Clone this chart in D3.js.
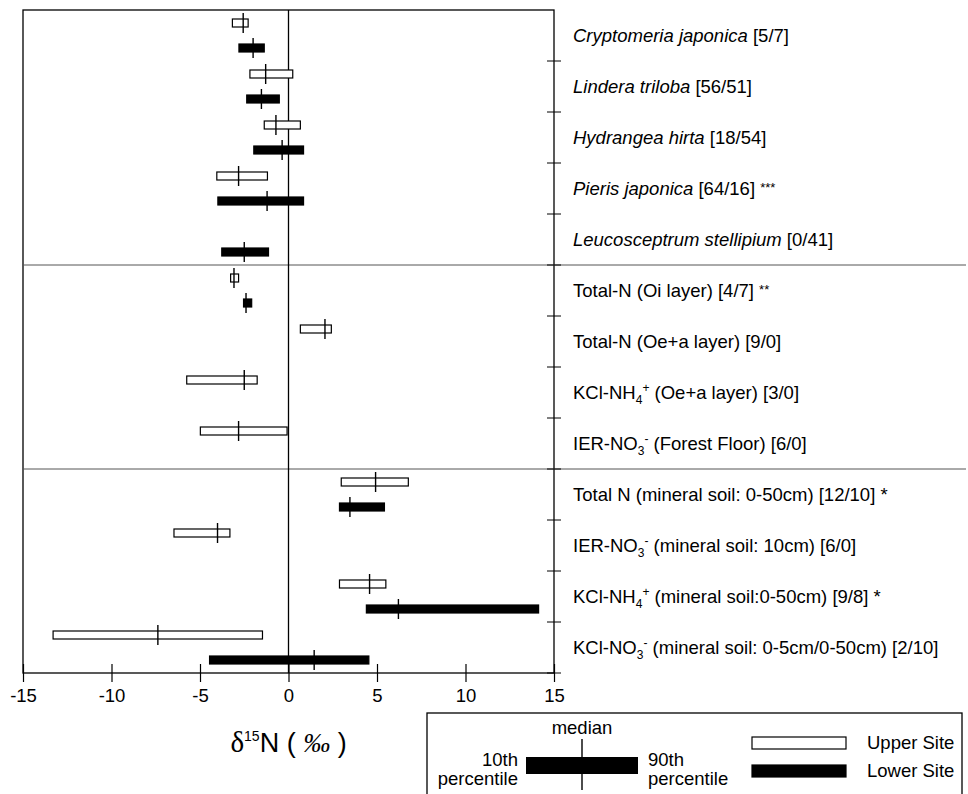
<!DOCTYPE html>
<meta charset="utf-8">
<script src="https://d3js.org/d3.v7.min.js"></script>
<style>
  body { margin: 0; background: #fff; }
  text { font-family: "Liberation Sans", Arial, sans-serif; fill: #000; }
</style>
<div id="chart"></div>
<script>
// rows, top to bottom (_x = subscript, ^x = superscript)
var categories = ["Cryptomeria japonica", "Lindera triloba", "Hydrangea hirta", "Pieris japonica",
  "Leucosceptrum stellipium", "Total-N (Oi layer)", "Total-N (Oe+a layer)", "KCl-NH_4^+ (Oe+a layer)",
  "IER-NO_3^- (Forest Floor)", "Total N (mineral soil: 0-50cm)", "IER-NO_3^- (mineral soil: 10cm)",
  "KCl-NH_4^+ (mineral soil:0-50cm)", "KCl-NO_3^- (mineral soil: 0-5cm/0-50cm)"];
var sampleSizes = ["[5/7]", "[56/51]", "[18/54]", "[64/16]", "[0/41]", "[4/7]", "[9/0]", "[3/0]",
  "[6/0]", "[12/10]", "[6/0]", "[9/8]", "[2/10]"];
var significance = ["", "", "", "***", "", "**", "", "", "", "*", "", "*", ""];
var speciesRows = 5;          // first rows are plant species (italic)
var groupBreaks = [5, 9];     // horizontal dividers before these rows

// delta15N percentiles (permil), null = no samples
var upperP10 = [-3.17, -2.18, -1.37, -4.05, null, -3.27, 0.67, -5.75, -4.98, 2.98, -6.47, 2.88, -13.3];
var upperMed = [-2.56, -1.29, -0.71, -2.82, null, -3.08, 2.06, -2.5, -2.82, 4.92, -4.01, 4.58, -7.38];
var upperP90 = [-2.28, 0.24, 0.67, -1.19, null, -2.82, 2.42, -1.77, -0.08, 6.77, -3.31, 5.5, -1.47];
var lowerP10 = [-2.8, -2.36, -1.96, -3.99, -3.77, -2.54, null, null, null, 2.88, null, 4.4, -4.46];
var lowerMed = [-2.0, -1.53, -0.36, -1.21, -2.5, -2.4, null, null, null, 3.47, null, 6.21, 1.45];
var lowerP90 = [-1.37, -0.52, 0.85, 0.85, -1.13, -2.08, null, null, null, 5.42, null, 14.13, 4.54];

var sites = ["Upper Site", "Lower Site"];
var siteFill = ["#fff", "#000"];
var xTicks = [-15, -10, -5, 0, 5, 10, 15];

var W = 968, H = 794;
var svg = d3.select("#chart").append("svg").attr("width", W).attr("height", H);

var x = d3.scaleLinear().domain([-15, 15]).range([23, 554]);
var y = d3.scaleBand().domain(d3.range(categories.length)).range([10, 673]);
var ySite = d3.scalePoint().domain(sites).range([0, y.bandwidth()]).padding(0.52);

// build the records
var data = [];
categories.forEach(function(c, i) {
  data.push({row: i, site: sites[0], p10: upperP10[i], med: upperMed[i], p90: upperP90[i]});
  data.push({row: i, site: sites[1], p10: lowerP10[i], med: lowerMed[i], p90: lowerP90[i]});
});
data = data.filter(function(d) { return d.med !== null; });

// frame
svg.append("rect")
  .attr("x", x.range()[0]).attr("y", y.range()[0])
  .attr("width", x.range()[1] - x.range()[0]).attr("height", y.range()[1] - y.range()[0])
  .attr("fill", "none").attr("stroke", "#000").attr("stroke-width", 1.3);

// group dividers run across the label column
groupBreaks.forEach(function(b) {
  svg.append("line")
    .attr("x1", x.range()[0]).attr("x2", 966)
    .attr("y1", y(b)).attr("y2", y(b))
    .attr("stroke", "#555").attr("stroke-width", 1);
});

// right-hand row ticks
svg.append("g").selectAll("line")
  .data(d3.range(1, categories.length + 1))
  .enter().append("line")
    .attr("x1", x.range()[1] - 7).attr("x2", x.range()[1] + 7)
    .attr("y1", function(i) { return i < categories.length ? y(i) : y.range()[1]; })
    .attr("y2", function(i) { return i < categories.length ? y(i) : y.range()[1]; })
    .attr("stroke", "#000").attr("stroke-width", 1);

// zero line
svg.append("line")
  .attr("x1", x(0)).attr("x2", x(0))
  .attr("y1", y.range()[0]).attr("y2", y.range()[1])
  .attr("stroke", "#000").attr("stroke-width", 1.3);

// x axis, ticks crossing the frame
var xAxis = svg.append("g")
  .attr("transform", "translate(0," + (y.range()[1] - 9) + ")")
  .call(d3.axisBottom(x).tickValues(xTicks).tickSize(18).tickPadding(7)
    .tickFormat(function(d) { return String(d); }));
xAxis.select(".domain").remove();
xAxis.selectAll("line").attr("stroke", "#000").attr("stroke-width", 1.2);
xAxis.selectAll("text").style("font-size", "18.5px").attr("fill", "#000");

// percentile bars
var barH = 8;
svg.append("g").selectAll("rect")
  .data(data)
  .enter().append("rect")
    .attr("x", function(d) { return x(d.p10); })
    .attr("y", function(d) { return y(d.row) + ySite(d.site) - barH / 2; })
    .attr("width", function(d) { return x(d.p90) - x(d.p10); })
    .attr("height", barH)
    .attr("fill", function(d) { return siteFill[sites.indexOf(d.site)]; })
    .attr("stroke", "#000").attr("stroke-width", 1.2);

// medians
svg.append("g").selectAll("line")
  .data(data)
  .enter().append("line")
    .attr("x1", function(d) { return x(d.med); })
    .attr("x2", function(d) { return x(d.med); })
    .attr("y1", function(d) { return y(d.row) + ySite(d.site) - 10; })
    .attr("y2", function(d) { return y(d.row) + ySite(d.site) + 10; })
    .attr("stroke", "#000").attr("stroke-width", 1.4);

// labels with sub/superscripts
function addRich(txt, str, italic) {
  var parts = str.split(/(_.|\^.)/).filter(function(s) { return s.length; });
  var shift = 0;
  parts.forEach(function(p) {
    var t = txt.append("tspan");
    var target = 0, size = null;
    if (p[0] === "_") { target = 5; size = "12px"; p = p.slice(1); }
    else if (p[0] === "^") { target = -7; size = "12px"; p = p.slice(1); }
    t.attr("dy", target - shift).text(p);
    if (size) t.style("font-size", size);
    if (italic) t.style("font-style", "italic");
    shift = target;
  });
  return shift;
}

var labels = svg.append("g").selectAll("text")
  .data(categories)
  .enter().append("text")
    .attr("x", 573)
    .attr("y", function(d, i) { return y(i) + y.bandwidth() / 2 + 6; })
    .style("font-size", "18.5px");

labels.each(function(d, i) {
  var t = d3.select(this);
  var shift = addRich(t, d, i < speciesRows);
  t.append("tspan").attr("dy", -shift).text(" " + sampleSizes[i]);
  if (significance[i]) {
    var s = significance[i];
    t.append("tspan").text(" ");
    t.append("tspan").attr("dy", s.length > 1 ? -3 : 0)
      .style("font-size", s.length > 1 ? "13px" : "18.5px").text(s);
  }
});

// axis title
var title = svg.append("text")
  .attr("x", x(0)).attr("y", 752)
  .attr("text-anchor", "middle");
title.append("tspan").style("font-family", "'Liberation Serif', serif").style("font-size", "29px").text("δ");
title.append("tspan").style("font-size", "14px").attr("dy", -11).text("15");
title.append("tspan").style("font-size", "27px").attr("dy", 11).text("N ( ");
title.append("tspan").style("font-family", "'Liberation Serif', serif").style("font-style", "italic")
  .style("font-size", "27px").text("‰");
title.append("tspan").style("font-size", "27px").text(" )");

// legend
var lg = svg.append("g");
lg.append("rect")
  .attr("x", 427).attr("y", 713).attr("width", 535).attr("height", 120)
  .attr("fill", "#fff").attr("stroke", "#000").attr("stroke-width", 1.3);

lg.append("rect").attr("x", 526).attr("y", 757).attr("width", 112).attr("height", 17).attr("fill", "#000");
lg.append("line").attr("x1", 582).attr("x2", 582).attr("y1", 739).attr("y2", 790)
  .attr("stroke", "#000").attr("stroke-width", 1.4);
lg.append("text").attr("x", 582).attr("y", 734).attr("text-anchor", "middle")
  .style("font-size", "18.5px").text("median");
lg.append("text").attr("x", 518).attr("y", 766).attr("text-anchor", "end")
  .style("font-size", "18.5px").text("10th");
lg.append("text").attr("x", 518).attr("y", 785).attr("text-anchor", "end")
  .style("font-size", "18.5px").text("percentile");
lg.append("text").attr("x", 648).attr("y", 766)
  .style("font-size", "18.5px").text("90th");
lg.append("text").attr("x", 648).attr("y", 785)
  .style("font-size", "18.5px").text("percentile");

var items = lg.selectAll(".item")
  .data(sites)
  .enter().append("g")
    .attr("transform", function(d, i) { return "translate(752," + (737 + i * 28) + ")"; });
items.append("rect")
  .attr("width", 94).attr("height", 12)
  .attr("fill", function(d, i) { return siteFill[i]; })
  .attr("stroke", "#000").attr("stroke-width", 1.2);
items.append("text")
  .attr("x", 115).attr("y", 12)
  .style("font-size", "18.5px")
  .text(function(d) { return d; });
</script>
